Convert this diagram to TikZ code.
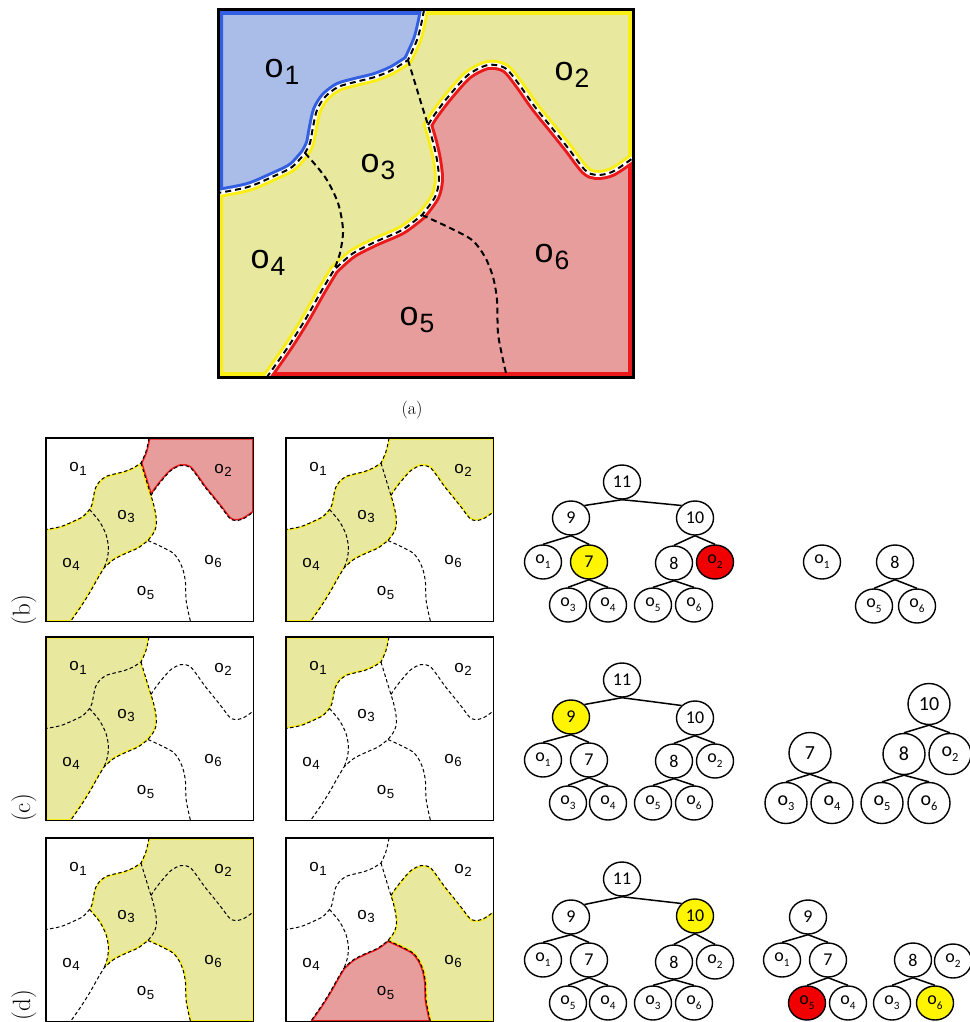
\documentclass[tikz,border=0pt]{standalone}
\usepackage{fontspec}
\usepackage{graphicx}
\usetikzlibrary{shapes.geometric}
\newfontfamily\mapfont{Liberation Sans}
\newfontfamily\treefont{Carlito}
\definecolor{yfill}{RGB}{232,232,158}
\definecolor{yline}{RGB}{250,238,20}
\definecolor{rfill}{RGB}{232,157,157}
\definecolor{rline}{RGB}{235,25,25}
\definecolor{bfill}{RGB}{170,188,232}
\definecolor{bline}{RGB}{50,95,225}
\definecolor{nodeyellow}{RGB}{255,245,0}
\definecolor{nodered}{RGB}{240,0,0}
\newcommand\ol[1]{o\kern0.03em\raisebox{-0.22em}{\scalebox{0.78}{#1}}}
\newcommand\tl[1]{o\raisebox{-0.28em}{\scalebox{0.62}{#1}}}
\newcommand\hreg[4]{\begin{scope}\clip #4; \fill[#1] #4; \draw[#2,line width=#3] #4; \end{scope}}
\newcommand\bounds[1]{%
 \draw[#1] (206,0) [sAB][sBC][sCD];
 \draw[#1] (190,50) [sBE][sEF][sFG][sGH];
 \draw[#1] (210,115) [sEJ];
 \draw[#1] (87,143) [sCG];
 \draw[#1] (204,205) [sFI];}
\newcommand\maplabels[1]{%
 \node[maplab] (#1o1) at (64,62) {\ol{1}};
 \node[maplab] (#1o2) at (354,65) {\ol{2}};
 \node[maplab] (#1o3) at (160,157) {\ol{3}};
 \node[maplab] (#1o4) at (50,253) {\ol{4}};
 \node[maplab] (#1o5) at (199,310) {\ol{5}};
 \node[maplab] (#1o6) at (334,247) {\ol{6}};}
\begin{document}
\begin{tikzpicture}[x=1pt,y=-1pt,
 sAB/.style={insert path={-- plot[smooth] coordinates {(206,0) (203,15) (199,30) (190,50)}}},
 sBA/.style={insert path={-- plot[smooth] coordinates {(190,50) (199,30) (203,15) (206,0)}}},
 sBC/.style={insert path={-- plot[smooth] coordinates {(190,50) (174,60) (157,67) (137,72) (120,77) (107,87) (99,100) (95,117) (92,133) (87,143)}}},
 sCB/.style={insert path={-- plot[smooth] coordinates {(87,143) (92,133) (95,117) (99,100) (107,87) (120,77) (137,72) (157,67) (174,60) (190,50)}}},
 sCD/.style={insert path={-- plot[smooth] coordinates {(87,143) (74,157) (54,167) (30,177) (0,183)}}},
 sDC/.style={insert path={-- plot[smooth] coordinates {(0,183) (30,177) (54,167) (74,157) (87,143)}}},
 sBE/.style={insert path={-- plot[smooth] coordinates {(190,50) (197,73) (204,96) (210,115)}}},
 sEB/.style={insert path={-- plot[smooth] coordinates {(210,115) (204,96) (197,73) (190,50)}}},
 sCG/.style={insert path={-- plot[smooth] coordinates {(87,143) (107,167) (120,193) (125,220) (122,243) (116,260)}}},
 sGC/.style={insert path={-- plot[smooth] coordinates {(116,260) (122,243) (125,220) (120,193) (107,167) (87,143)}}},
 sEJ/.style={insert path={-- plot[smooth] coordinates {(210,115) (217,104) (230,87) (250,65) (270,55) (287,58) (300,73) (317,97) (334,118) (350,138) (367,160) (378,165) (394,162) (415,148)}}},
 sJE/.style={insert path={-- plot[smooth] coordinates {(415,148) (394,162) (378,165) (367,160) (350,138) (334,118) (317,97) (300,73) (287,58) (270,55) (250,65) (230,87) (217,104) (210,115)}}},
 sEF/.style={insert path={-- plot[smooth] coordinates {(210,115) (215,132) (219,150) (221,170) (217,187) (204,205)}}},
 sFE/.style={insert path={-- plot[smooth] coordinates {(204,205) (217,187) (221,170) (219,150) (215,132) (210,115)}}},
 sFG/.style={insert path={-- plot[smooth] coordinates {(204,205) (184,220) (157,232) (134,244) (116,260)}}},
 sGF/.style={insert path={-- plot[smooth] coordinates {(116,260) (134,244) (157,232) (184,220) (204,205)}}},
 sGH/.style={insert path={-- plot[smooth] coordinates {(116,260) (104,280) (87,310) (70,337) (49,367)}}},
 sHG/.style={insert path={-- plot[smooth] coordinates {(49,367) (70,337) (87,310) (104,280) (116,260)}}},
 sFI/.style={insert path={-- plot[smooth] coordinates {(204,205) (230,217) (254,230) (267,247) (275,267) (279,290) (280,323) (285,350) (289,367)}}},
 sIF/.style={insert path={-- plot[smooth] coordinates {(289,367) (285,350) (280,323) (279,290) (275,267) (267,247) (254,230) (230,217) (204,205)}}},
 bigdash/.style={line width=2pt, dash pattern=on 6pt off 4pt},
 smalldash/.style={line width=1pt, dash pattern=on 3.5pt off 2.5pt},
 maplab/.style={font=\mapfont\fontsize{34}{40}\selectfont, inner sep=0pt},
 tn/.style={ellipse, draw, line width=1.4pt, minimum width=37pt, minimum height=34pt, inner sep=0pt, fill=white, font=\treefont\fontsize{18}{20}\selectfont},
 tnb/.style={tn, minimum width=42pt, minimum height=41pt, font=\treefont\fontsize{20}{22}\selectfont},
 te/.style={line width=1.5pt},
 plab/.style={font=\fontsize{25}{28}\selectfont, rotate=90}
]
\useasboundingbox (0,0) rectangle (969,1022);
\fill[white] (0,0) rectangle (969,1022);

% ---------- (a) ----------
\begin{scope}[shift={(218,10)}]
 \hreg{bfill}{bline}{10pt}{(0,0) [sAB][sBC][sCD] -- cycle}
 \hreg{yfill}{yline}{10pt}{(0,367) -- (0,183) [sDC][sCB][sBA] -- (415,0) -- (415,148) [sJE][sEF][sFG][sGH] -- cycle}
 \hreg{rfill}{rline}{10pt}{(415,367) -- (415,148) [sJE][sEF][sFG][sGH] -- cycle}
 \draw[white,line width=4pt] (206,0) [sAB][sBC][sCD];
 \draw[white,line width=4pt] (415,148) [sJE][sEF][sFG][sGH];
 \bounds{bigdash}
 \maplabels{a}
 \draw[line width=3pt] (0,0) rectangle (415,367);
\end{scope}
\node[font=\fontsize{18}{20}\selectfont] (lab-a) at (412,410) {(a)};

% ---------- (b) ----------
\begin{scope}[shift={(46,438)},scale=0.5,transform shape]
 \hreg{rfill}{rline}{3pt}{(415,0) -- (415,148) [sJE][sEB][sBA] -- cycle}
 \hreg{yfill}{yline}{3pt}{(0,367) -- (0,183) [sDC][sCB][sBE][sEF][sFG][sGH] -- cycle}
 \bounds{smalldash}
 \maplabels{bl}
 \draw[line width=1.6pt] (0,0) rectangle (415,367);
\end{scope}
\begin{scope}[shift={(286,438)},scale=0.5,transform shape]
 \hreg{yfill}{yline}{3pt}{(0,367) -- (0,183) [sDC][sCB][sBA] -- (415,0) -- (415,148) [sJE][sEF][sFG][sGH] -- cycle}
 \bounds{smalldash}
 \maplabels{br}
 \draw[line width=1.6pt] (0,0) rectangle (415,367);
\end{scope}
\node[plab] (lab-b) at (24,610) {(b)};

% ---------- (c) ----------
\begin{scope}[shift={(46,637)},scale=0.5,transform shape]
 \hreg{yfill}{yline}{3pt}{(0,0) [sAB][sBE][sEF][sFG][sGH] -- (0,367) -- cycle}
 \bounds{smalldash}
 \maplabels{cl}
 \draw[line width=1.6pt] (0,0) rectangle (415,367);
\end{scope}
\begin{scope}[shift={(286,637)},scale=0.5,transform shape]
 \hreg{yfill}{yline}{3pt}{(0,0) [sAB][sBC][sCD] -- cycle}
 \bounds{smalldash}
 \maplabels{cr}
 \draw[line width=1.6pt] (0,0) rectangle (415,367);
\end{scope}
\node[plab] (lab-c) at (24,808) {(c)};

% ---------- (d) ----------
\begin{scope}[shift={(46,838)},scale=0.5,transform shape]
 \hreg{yfill}{yline}{3pt}{(206,0) -- (415,0) -- (415,367) -- (289,367) [sIF][sFG][sGC][sCB][sBA] -- cycle}
 \bounds{smalldash}
 \maplabels{dl}
 \draw[line width=1.6pt] (0,0) rectangle (415,367);
\end{scope}
\begin{scope}[shift={(286,838)},scale=0.5,transform shape]
 \hreg{yfill}{yline}{3pt}{(415,367) -- (415,148) [sJE][sEF][sFI] -- cycle}
 \hreg{rfill}{rline}{3pt}{(49,367) [sHG][sGF][sFI] -- cycle}
 \bounds{smalldash}
 \maplabels{dr}
 \draw[line width=1.6pt] (0,0) rectangle (415,367);
\end{scope}
\node[plab] (lab-d) at (24,1005) {(d)};

% ---------- trees (b) ----------
\node[tn] (b11) at (622,482) {11};
\node[tn] (b9) at (571,518) {9};
\node[tn] (b10) at (695,518) {10};
\node[tn] (bo1) at (543,562) {\tl{1}};
\node[tn,fill=nodeyellow] (b7) at (589,562) {7};
\node[tn] (b8) at (674,563) {8};
\node[tn,fill=nodered] (bo2) at (715,562) {\tl{2}};
\node[tn] (bo3) at (568,605) {\tl{3}};
\node[tn] (bo4) at (608,605) {\tl{4}};
\node[tn] (bo5) at (653,605) {\tl{5}};
\node[tn] (bo6) at (694,605) {\tl{6}};
\draw[te] (b11.south) -- (b9.north east);
\draw[te] (b11.south) -- (b10.north west);
\foreach \p/\c in {b9/bo1,b9/b7,b7/bo3,b7/bo4,b10/b8,b10/bo2,b8/bo5,b8/bo6}
 \draw[te] (\p.south) -- (\c.north);
\node[tn] (bfo1) at (822,562) {\tl{1}};
\node[tn] (bf8) at (895,562) {8};
\node[tn] (bfo5) at (874,606) {\tl{5}};
\node[tn] (bfo6) at (917,606) {\tl{6}};
\foreach \p/\c in {bf8/bfo5,bf8/bfo6}
 \draw[te] (\p.south) -- (\c.north);

% ---------- trees (c) ----------
\node[tn] (c11) at (622,680) {11};
\node[tn,fill=nodeyellow] (c9) at (571,717) {9};
\node[tn] (c10) at (695,718) {10};
\node[tn] (co1) at (543,760) {\tl{1}};
\node[tn] (c7) at (589,760) {7};
\node[tn] (c8) at (674,761) {8};
\node[tn] (co2) at (715,761) {\tl{2}};
\node[tn] (co3) at (568,803) {\tl{3}};
\node[tn] (co4) at (608,803) {\tl{4}};
\node[tn] (co5) at (653,803) {\tl{5}};
\node[tn] (co6) at (694,803) {\tl{6}};
\draw[te] (c11.south) -- (c9.north east);
\draw[te] (c11.south) -- (c10.north west);
\foreach \p/\c in {c9/co1,c9/c7,c7/co3,c7/co4,c10/c8,c10/co2,c8/co5,c8/co6}
 \draw[te] (\p.south) -- (\c.north);
\node[tnb] (cf7) at (810,753) {7};
\node[tnb] (cfo3) at (786,803) {\tl{3}};
\node[tnb] (cfo4) at (832,803) {\tl{4}};
\node[tnb] (cf10) at (929,704) {10};
\node[tnb] (cf8) at (904,754) {8};
\node[tnb] (cfo2) at (950,754) {\tl{2}};
\node[tnb] (cfo5) at (882,803) {\tl{5}};
\node[tnb] (cfo6) at (929,803) {\tl{6}};
\foreach \p/\c in {cf7/cfo3,cf7/cfo4,cf10/cf8,cf10/cfo2,cf8/cfo5,cf8/cfo6}
 \draw[te] (\p.south) -- (\c.north);

% ---------- trees (d) ----------
\node[tn] (d11) at (622,879) {11};
\node[tn] (d9) at (571,917) {9};
\node[tn,fill=nodeyellow] (d10) at (695,916) {10};
\node[tn] (do1) at (543,960) {\tl{1}};
\node[tn] (d7) at (589,960) {7};
\node[tn] (d8) at (674,962) {8};
\node[tn] (do2) at (715,962) {\tl{2}};
\node[tn] (do5) at (568,1003) {\tl{5}};
\node[tn] (do4) at (608,1003) {\tl{4}};
\node[tn] (do3) at (653,1003) {\tl{3}};
\node[tn] (do6) at (694,1003) {\tl{6}};
\draw[te] (d11.south) -- (d9.north east);
\draw[te] (d11.south) -- (d10.north west);
\foreach \p/\c in {d9/do1,d9/d7,d7/do5,d7/do4,d10/d8,d10/do2,d8/do3,d8/do6}
 \draw[te] (\p.south) -- (\c.north);
\node[tn] (df9) at (808,917) {9};
\node[tn] (dfo1) at (782,960) {\tl{1}};
\node[tn] (df7) at (828,960) {7};
\node[tn,fill=nodered] (dfo5) at (807,1003) {\tl{5}};
\node[tn] (dfo4) at (848,1003) {\tl{4}};
\node[tn] (df8) at (913,960) {8};
\node[tn] (dfo2) at (953,961) {\tl{2}};
\node[tn] (dfo3) at (892,1003) {\tl{3}};
\node[tn,fill=nodeyellow] (dfo6) at (935,1003) {\tl{6}};
\foreach \p/\c in {df9/dfo1,df9/df7,df7/dfo5,df7/dfo4,df8/dfo3,df8/dfo6}
 \draw[te] (\p.south) -- (\c.north);
\end{tikzpicture}
\end{document}
